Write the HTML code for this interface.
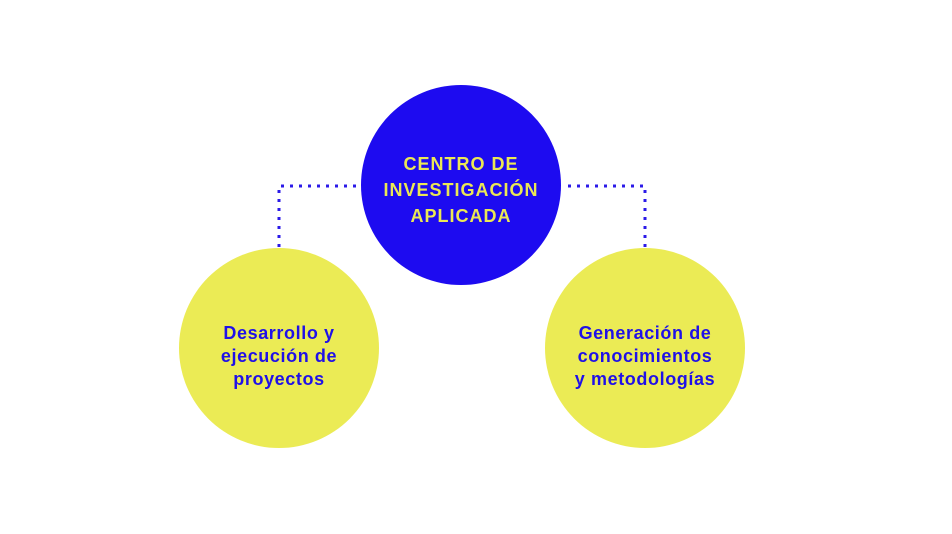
<!DOCTYPE html>
<html><head><style>
body{margin:0;width:952px;height:534px;background:#fff;position:relative;overflow:hidden;font-family:"Liberation Sans",sans-serif;font-weight:bold}
.c{position:absolute;width:200px;height:200px;border-radius:50%;display:flex;align-items:center;justify-content:center;text-align:center;font-size:18px;letter-spacing:0.6px;box-sizing:border-box}
.y{background:#ebeb55;color:#1f10e8;line-height:23px;padding-top:16px}
.b{background:#1d0bf0;color:#ebe854;line-height:26px;padding-top:10px;font-size:18px;letter-spacing:1px}
</style></head><body>
<svg width="952" height="534" style="position:absolute;left:0;top:0">
<g stroke="#2b1ae8" stroke-width="3" stroke-dasharray="3,6" fill="none">
<path d="M279 247 V186 H360"/>
<path d="M645 247 V186 H563"/>
</g></svg>
<div class="c b" style="left:361px;top:85px">CENTRO DE<br>INVESTIGACIÓN<br>APLICADA</div>
<div class="c y" style="left:179px;top:248px">Desarrollo y<br>ejecución de<br>proyectos</div>
<div class="c y" style="left:545px;top:248px">Generación de<br>conocimientos<br>y metodologías</div>
</body></html>
